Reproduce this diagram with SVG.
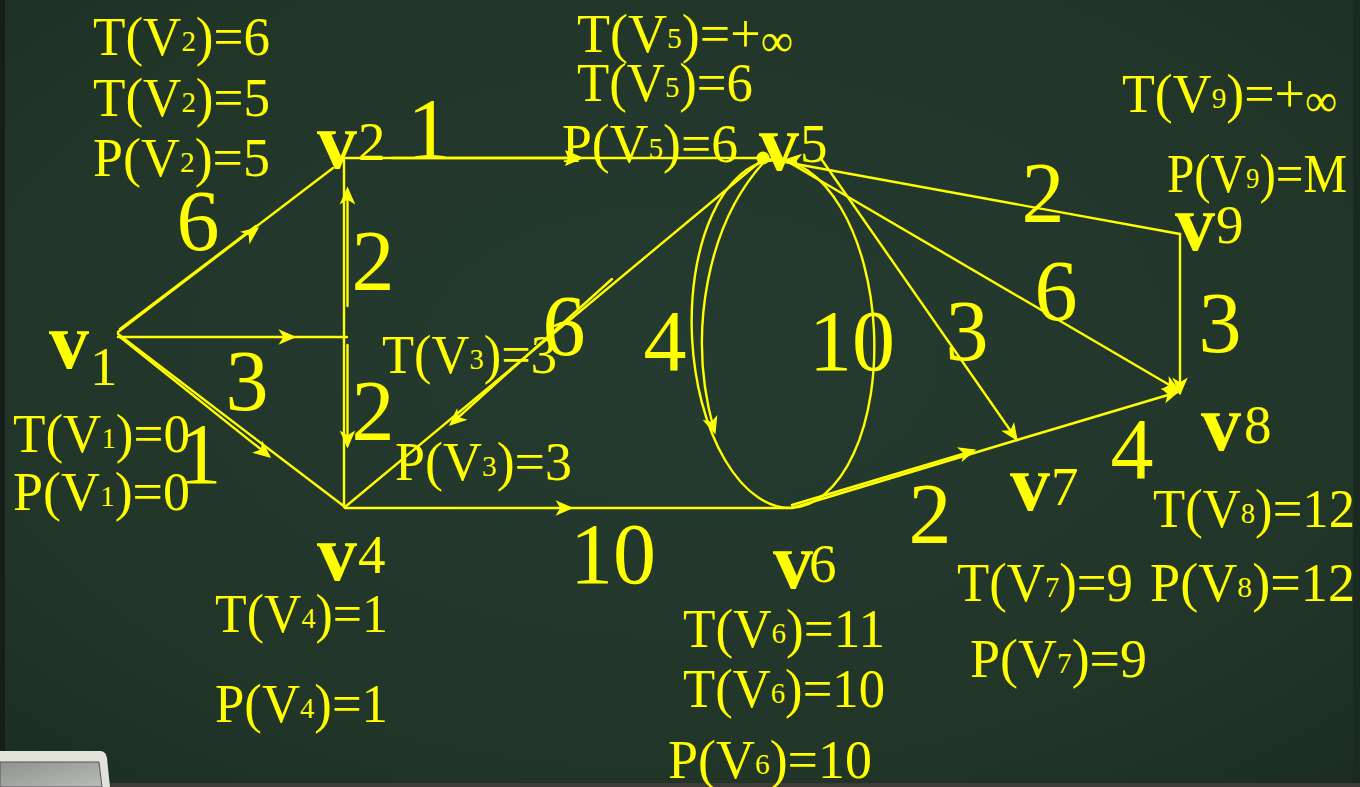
<svg xmlns="http://www.w3.org/2000/svg" xmlns:xlink="http://www.w3.org/1999/xlink" width="1360" height="787" viewBox="0 0 1360 787">
<defs>
<radialGradient id="bg" cx="0.5" cy="0.45" r="0.75">
<stop offset="0" stop-color="#263b30"/>
<stop offset="0.7" stop-color="#213529"/>
<stop offset="1" stop-color="#1b2d23"/>
</radialGradient>
<linearGradient id="scr" x1="0" y1="0" x2="1" y2="1">
<stop offset="0" stop-color="#8f928f"/>
<stop offset="1" stop-color="#b9bbb8"/>
</linearGradient>
<path id="ah" d="M0,0 L-15,-6.5 L-11,0 L-15,6.5 Z"/>
<style>
.e{stroke:#ffff00;stroke-width:2.4;fill:none;stroke-linecap:round}
.ah{fill:#ffff00;stroke:#ffff00;stroke-width:1.2;stroke-linejoin:miter}
.lbl{font-family:"Liberation Serif",serif;font-size:55px;fill:#ffff00}
.sub{font-size:30px}
.inf{font-size:46px}
.w{font-family:"Liberation Serif",serif;font-size:86px;fill:#ffff00;text-anchor:middle}
.vb{font-family:"Liberation Serif",serif;font-weight:bold;font-size:80px;fill:#ffff00}
.vd{font-family:"Liberation Serif",serif;font-size:55px;fill:#ffff00}
</style>
</defs>
<rect width="1360" height="787" fill="url(#bg)"/>
<rect x="0" y="0" width="5" height="787" fill="#141f1a"/>
<rect x="1353" y="0" width="7" height="787" fill="#1a2a21"/>
<rect x="0" y="783" width="1360" height="4" fill="#3e3b36"/>
<g id="laptop">
<path d="M0,751 L101,751 Q106,752 107,758 L110,787 L0,787 Z" fill="#e2e2da"/>
<path d="M0,762 L99,762 L102,787 L0,787 Z" fill="url(#scr)" stroke="#555" stroke-width="1"/>
</g>

<g id="connectors">
<g id="e-v1-v2">
<line class="e" x1="118" y1="332" x2="333" y2="168"/>
<line class="e" x1="120" y1="329" x2="256" y2="226"/>
<use href="#ah" class="ah" transform="translate(258,228) rotate(-37)"/>
<text class="w" x="198" y="250">6</text>
</g>
<g id="e-v1-v3">
<line class="e" x1="118" y1="337" x2="347" y2="337"/>
<use href="#ah" class="ah" transform="translate(295,337)"/>
<text class="w" x="247" y="410">3</text>
</g>
<g id="e-v1-v4">
<line class="e" x1="118" y1="334" x2="345" y2="507"/>
<line class="e" x1="120" y1="337" x2="268" y2="455"/>
<use href="#ah" class="ah" transform="translate(270,457) rotate(39)"/>
<text class="w" x="200" y="483">1</text>
</g>
<g id="e-v3-v2">
<line class="e" x1="344" y1="338" x2="344" y2="160"/>
<line class="e" x1="347.5" y1="192" x2="347.5" y2="306"/>
<use href="#ah" class="ah" transform="translate(347.5,188) rotate(-90)"/>
<text class="w" x="373" y="290">2</text>
</g>
<g id="e-v3-v4">
<line class="e" x1="344" y1="338" x2="344" y2="507"/>
<line class="e" x1="347.5" y1="345" x2="347.5" y2="445"/>
<use href="#ah" class="ah" transform="translate(347.5,447) rotate(90)"/>
<text class="w" x="373" y="440">2</text>
</g>
<g id="e-v2-v5">
<line class="e" x1="344" y1="158" x2="763" y2="158"/>
<line class="e" x1="392" y1="158" x2="568" y2="158" stroke-width="5"/>
<path d="M584,158 L565,150 L568,158 L565,166 Z" fill="#ffff00"/>
<text class="w" x="429" y="158">1</text>
</g>
<g id="e-v4-v5">
<line class="e" x1="345" y1="507" x2="762" y2="160"/>
<line class="e" x1="612" y1="279" x2="453" y2="422"/>
<use href="#ah" class="ah" transform="translate(450,425) rotate(138)"/>
<text class="w" x="564" y="355">6</text>
</g>
<g id="e-v4-v6">
<line class="e" x1="345" y1="508" x2="792" y2="508"/>
<use href="#ah" class="ah" transform="translate(572,508)"/>
<text class="w" x="613" y="583">10</text>
</g>
<g id="e-v5-v6">
<path class="e" d="M773.9,160.2 A91,174 -3 0,0 792.1,507.8"/>
<path class="e" d="M764,162 C709,222 686,330 714,430"/>
<use href="#ah" class="ah" transform="translate(715,433) rotate(72)"/>
<text class="w" x="665" y="370">4</text>
</g>
<g id="e-v6-v5">
<path class="e" d="M773.9,160.2 A91,174 -3 0,1 792.1,507.8"/>
<use href="#ah" class="ah" transform="translate(785,160) rotate(185)"/>
<text class="w" x="852" y="370">10</text>
</g>
<g id="e-v5-v9">
<line class="e" x1="763" y1="158" x2="1180" y2="234"/>
<text class="w" x="1043" y="222">2</text>
</g>
<g id="e-v9-v8">
<line class="e" x1="1180" y1="234" x2="1180" y2="393"/>
<use href="#ah" class="ah" transform="translate(1180,394) rotate(90)"/>
<text class="w" x="1220" y="352">3</text>
</g>
<g id="e-v5-v8">
<line class="e" x1="785" y1="160" x2="1178" y2="390"/>
<use href="#ah" class="ah" transform="translate(1179,391) rotate(30.3)"/>
<text class="w" x="1056" y="320">6</text>
</g>
<g id="e-v5-v7">
<line class="e" x1="822" y1="160" x2="1017" y2="440"/>
<use href="#ah" class="ah" transform="translate(1017,440) rotate(55.4)"/>
<text class="w" x="967" y="360">3</text>
</g>
<g id="e-v6-v7">
<line class="e" x1="792" y1="508" x2="1017" y2="440"/>
<line class="e" x1="792" y1="505" x2="973" y2="451"/>
<use href="#ah" class="ah" transform="translate(975,450) rotate(-16.8)"/>
<text class="w" x="930" y="543">2</text>
</g>
<g id="e-v7-v8">
<line class="e" x1="1017" y1="440" x2="1178" y2="392"/>
<use href="#ah" class="ah" transform="translate(1179,391) rotate(-16.4)"/>
<text class="w" x="1132" y="478">4</text>
</g>
</g>

<g id="v1">
<text class="vb" x="49" y="368">v</text><text class="vd" x="90" y="385" font-size="58">1</text>
<text class="lbl" x="13" y="452" textLength="177" lengthAdjust="spacingAndGlyphs">T(V<tspan class="sub" dy="-4">1</tspan><tspan dy="4">)=0</tspan></text>
<text class="lbl" x="13" y="510" textLength="177" lengthAdjust="spacingAndGlyphs">P(V<tspan class="sub" dy="-4">1</tspan><tspan dy="4">)=0</tspan></text>
</g>
<g id="v2">
<text class="vb" x="317" y="168">v</text><text class="vd" x="358" y="160">2</text>
<text class="lbl" x="93" y="55" textLength="177" lengthAdjust="spacingAndGlyphs">T(V<tspan class="sub" dy="-4">2</tspan><tspan dy="4">)=6</tspan></text>
<text class="lbl" x="93" y="116" textLength="177" lengthAdjust="spacingAndGlyphs">T(V<tspan class="sub" dy="-4">2</tspan><tspan dy="4">)=5</tspan></text>
<text class="lbl" x="93" y="176" textLength="177" lengthAdjust="spacingAndGlyphs">P(V<tspan class="sub" dy="-4">2</tspan><tspan dy="4">)=5</tspan></text>
</g>
<g id="v3">
<text class="lbl" x="382" y="373" textLength="175" lengthAdjust="spacingAndGlyphs">T(V<tspan class="sub" dy="-4">3</tspan><tspan dy="4">)=3</tspan></text>
<text class="lbl" x="395" y="480" textLength="177" lengthAdjust="spacingAndGlyphs">P(V<tspan class="sub" dy="-4">3</tspan><tspan dy="4">)=3</tspan></text>
</g>
<g id="v4">
<text class="vb" x="317" y="580">v</text><text class="vd" x="358" y="573">4</text>
<text class="lbl" x="215" y="632" textLength="173" lengthAdjust="spacingAndGlyphs">T(V<tspan class="sub" dy="-4">4</tspan><tspan dy="4">)=1</tspan></text>
<text class="lbl" x="215" y="722" textLength="173" lengthAdjust="spacingAndGlyphs">P(V<tspan class="sub" dy="-4">4</tspan><tspan dy="4">)=1</tspan></text>
</g>
<g id="v5">
<circle cx="763" cy="158" r="6.5" fill="#ffff00"/>
<text class="vb" x="759" y="170">v</text><text class="vd" x="800" y="162">5</text>
<text class="lbl" x="577" y="52" textLength="216" lengthAdjust="spacingAndGlyphs">T(V<tspan class="sub" dy="-4">5</tspan><tspan dy="4">)=+</tspan><tspan class="inf" dy="4">∞</tspan></text>
<text class="lbl" x="577" y="101" textLength="176" lengthAdjust="spacingAndGlyphs">T(V<tspan class="sub" dy="-4">5</tspan><tspan dy="4">)=6</tspan></text>
<text class="lbl" x="562" y="162" textLength="176" lengthAdjust="spacingAndGlyphs">P(V<tspan class="sub" dy="-4">5</tspan><tspan dy="4">)=6</tspan></text>
</g>
<g id="v6">
<text class="vb" x="773" y="588">v</text><text class="vd" x="809" y="582">6</text>
<text class="lbl" x="683" y="647" textLength="202" lengthAdjust="spacingAndGlyphs">T(V<tspan class="sub" dy="-4">6</tspan><tspan dy="4">)=11</tspan></text>
<text class="lbl" x="683" y="707" textLength="202" lengthAdjust="spacingAndGlyphs">T(V<tspan class="sub" dy="-4">6</tspan><tspan dy="4">)=10</tspan></text>
<text class="lbl" x="668" y="778" textLength="204" lengthAdjust="spacingAndGlyphs">P(V<tspan class="sub" dy="-4">6</tspan><tspan dy="4">)=10</tspan></text>
</g>
<g id="v7">
<text class="vb" x="1010" y="510">v</text><text class="vd" x="1051" y="505">7</text>
<text class="lbl" x="957" y="601" textLength="176" lengthAdjust="spacingAndGlyphs">T(V<tspan class="sub" dy="-4">7</tspan><tspan dy="4">)=9</tspan></text>
<text class="lbl" x="970" y="677" textLength="177" lengthAdjust="spacingAndGlyphs">P(V<tspan class="sub" dy="-4">7</tspan><tspan dy="4">)=9</tspan></text>
</g>
<g id="v8">
<text class="vb" x="1201" y="450">v</text><text class="vd" x="1244" y="443">8</text>
<text class="lbl" x="1153" y="527" textLength="202" lengthAdjust="spacingAndGlyphs">T(V<tspan class="sub" dy="-4">8</tspan><tspan dy="4">)=12</tspan></text>
<text class="lbl" x="1150" y="601" textLength="205" lengthAdjust="spacingAndGlyphs">P(V<tspan class="sub" dy="-4">8</tspan><tspan dy="4">)=12</tspan></text>
</g>
<g id="v9">
<text class="vb" x="1175" y="250">v</text><text class="vd" x="1216" y="243">9</text>
<text class="lbl" x="1122" y="112" textLength="215" lengthAdjust="spacingAndGlyphs">T(V<tspan class="sub" dy="-4">9</tspan><tspan dy="4">)=+</tspan><tspan class="inf" dy="4">∞</tspan></text>
<text class="lbl" x="1167" y="192" textLength="180" lengthAdjust="spacingAndGlyphs">P(V<tspan class="sub" dy="-4">9</tspan><tspan dy="4">)=M</tspan></text>
</g>
</svg>
